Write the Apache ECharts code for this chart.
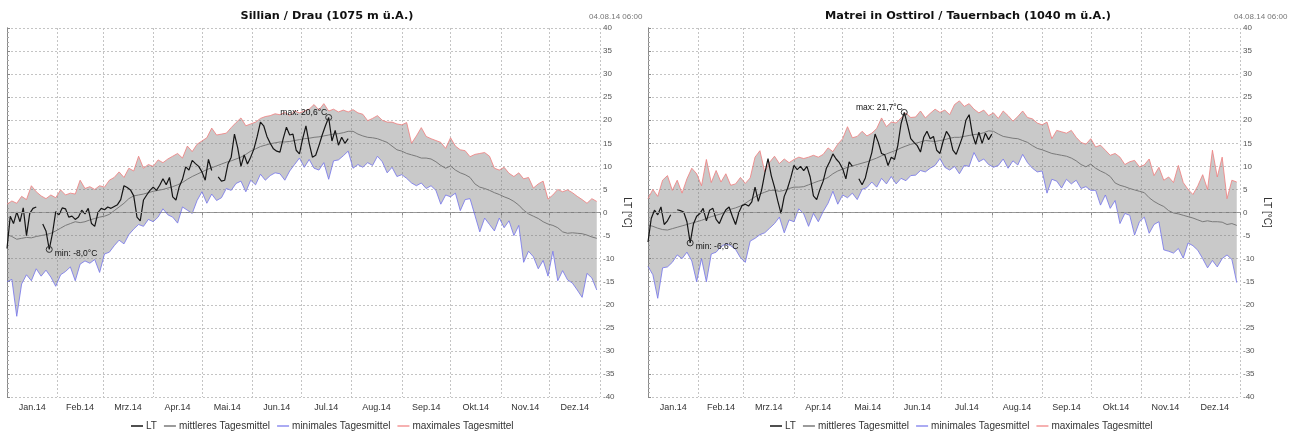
<!DOCTYPE html>
<html>
<head>
<meta charset="utf-8">
<script src="https://cdn.jsdelivr.net/npm/echarts@6/dist/echarts.min.js"></script>
<style>
  html, body { margin: 0; padding: 0; background: #fff; }
  #chart { width: 1294px; height: 432px; }
</style>
</head>
<body>
<div id="chart"></div>
<script>
// Month axis (day of year 2014, Jan 1 = 0)
const monthLabels = ['Jan.14', 'Feb.14', 'Mrz.14', 'Apr.14', 'Mai.14', 'Jun.14',
                     'Jul.14', 'Aug.14', 'Sep.14', 'Okt.14', 'Nov.14', 'Dez.14'];
const monthStarts = [0, 31, 59, 90, 120, 151, 181, 212, 243, 273, 304, 334, 365];
const tempMin = -40, tempMax = 40, tempStep = 5;

// Climatology series are sampled every 3 days, the 2014 daily means every 2 days
const CLIM_STEP = 3;
const LT_STEP = 2;

// ---- Sillian / Drau ----
const sillianMax = [
  1.8, 2.5, 2.0, 3.5, 2.8, 5.8, 4.5, 3.6, 3.0, 3.8, 3.2, 4.9, 3.8, 4.2, 4.0, 7.0, 5.2, 5.6, 5.0, 5.8,
  5.5, 7.0, 7.6, 8.8, 7.6, 9.6, 9.0, 12.2, 9.6, 10.4, 10.0, 11.4, 10.8, 11.6, 12.2, 12.8, 11.8, 14.4, 13.2, 14.8,
  15.5, 16.2, 18.3, 16.8, 17.0, 17.2, 18.4, 19.5, 20.5, 18.8, 19.2, 19.6, 20.4, 20.8, 21.0, 21.4, 21.2, 21.7, 21.0, 22.0,
  21.6, 22.0, 22.4, 23.4, 22.2, 23.6, 22.0, 22.4, 21.8, 22.2, 21.8, 22.3, 21.6, 21.3, 19.9, 20.4, 21.0, 20.0, 19.6, 19.6,
  19.2, 19.0, 19.5, 15.0, 16.6, 18.4, 16.5, 16.0, 15.6, 15.2, 13.9, 16.2, 14.4, 13.6, 13.4, 12.1, 12.6, 12.8, 13.0, 12.2,
  9.6, 9.2, 9.8, 8.5, 7.8, 8.6, 7.3, 7.6, 5.3, 6.2, 6.8, 2.9, 3.8, 5.0, 4.5, 4.9, 4.3, 3.5, 2.8, 2.0,
  3.0, 2.4
];
const sillianMin = [
  -15.0, -14.5, -22.5, -15.5, -13.5, -14.8, -12.2, -13.8, -12.5, -14.0, -16.0, -13.5, -12.8, -11.8, -14.8, -11.2, -10.5, -11.0, -10.2, -13.0,
  -9.0, -8.6, -7.2, -6.0, -6.8, -4.8, -3.6, -2.6, -3.0, -1.5, -2.0, -1.0, 0.8, -0.5, -1.0, -2.3, 1.2, 0.5, -0.2, 2.6,
  4.5, 2.0, 4.0, 2.6, 3.2, 5.2, 4.8, 6.3, 6.8, 4.5, 7.0, 6.0, 8.3, 7.0, 8.0, 8.6, 8.4, 7.0, 9.0, 10.4,
  11.8, 9.8, 11.5, 9.6, 9.2, 10.8, 7.2, 11.2, 11.4, 12.3, 13.3, 9.6, 10.4, 9.8, 10.8, 10.2, 12.2, 11.0, 8.6, 9.8,
  7.8, 8.2, 7.4, 6.4, 5.8, 6.4, 5.2, 5.8, 4.8, 1.8, 3.8, 3.4, 4.2, 0.4, 2.8, 3.0, -0.6, -4.2, -1.2, -2.6,
  -4.0, -1.2, -3.3, -1.8, -5.0, -2.8, -10.8, -8.4, -9.6, -12.2, -10.4, -13.8, -8.4, -14.8, -12.6, -14.6, -15.3, -16.8, -18.4, -13.2,
  -14.2, -16.8
];
const sillianMean = [
  -4.8, -5.2, -5.8, -5.6, -5.4, -5.5, -5.2, -5.0, -4.8, -4.5, -4.0, -3.4, -2.8, -2.4, -2.0, -2.2, -2.0, -1.6, -1.3, -1.0,
  -0.8, -0.4, 0.4, 1.2, 2.0, 3.0, 3.6, 3.8, 4.0, 4.3, 4.6, 4.8, 5.0, 5.3, 5.6, 6.0, 6.5, 7.2, 7.8, 8.3,
  8.8, 9.3, 9.7, 10.1, 10.5, 10.9, 11.2, 11.6, 12.0, 12.6, 13.3, 13.8, 14.3, 14.6, 14.9, 15.1, 15.3, 15.3, 15.4, 15.6,
  15.8, 16.0, 16.1, 16.3, 16.4, 16.6, 16.8, 17.0, 17.1, 17.3, 17.6, 17.6, 17.0, 16.6, 16.3, 16.2, 16.0, 15.6, 15.2, 14.4,
  13.6, 13.3, 12.8, 12.5, 12.2, 11.8, 11.8, 11.6, 11.0, 10.2, 9.6, 10.1, 9.2, 8.6, 8.2, 7.6, 6.2, 5.5, 5.2, 4.8,
  4.3, 3.9, 3.4, 3.0, 2.4, 1.6, 0.5, -0.3, -0.8, -1.3, -2.0, -2.5, -2.8, -3.3, -4.2, -4.5, -4.4, -4.5, -4.6, -4.9,
  -5.3, -5.6
];
const sillianLT = [
  -7.8, -0.8, -2.4, 0.1, -2.0, 1.0, -5.0, -0.2, 0.9, 1.2, null, -2.5, -4.0, -8.0, -4.5, 0.2, -0.5, 1.0, 0.8, -1.0,
  -0.8, -1.5, -1.0, 0.5, -0.3, 0.9, -2.4, -3.0, 0.0, 0.9, 0.6, 1.2, 0.9, 1.3, 1.7, 2.8, 5.8, 5.4, 4.9, 3.6,
  -1.0, -1.8, 2.7, 3.8, 4.8, 5.5, 4.8, 5.9, 7.3, 6.0, 7.6, 3.4, 2.7, 5.6, 7.2, 9.9, 9.2, 11.3, 10.6, 10.0,
  8.8, 7.0, 11.5, 9.1, null, 7.7, 6.8, 7.0, 10.5, 12.0, 17.0, 14.0, 10.0, 12.5, 10.5, 12.0, 13.8, 16.5, 19.6, 18.8,
  16.5, 15.0, 13.8, 13.3, 13.1, 16.0, 18.5, 16.8, 17.0, 13.5, 12.7, 16.0, 18.8, 15.0, 12.0, 12.4, 14.5, 16.8, 18.8, 20.6,
  15.5, 17.8, 14.6, 16.3, 15.0, 16.0
];

// ---- Matrei in Osttirol / Tauernbach ----
const matreiMax = [
  3.0, 5.0, 3.5, 7.0, 8.0, 4.8, 7.0, 4.2, 7.3, 9.6, 8.4, 5.8, 11.5, 6.5, 9.1, 6.6, 8.4, 5.9, 6.2, 7.6,
  6.3, 7.5, 12.0, 13.4, 8.8, 10.9, 12.2, 10.6, 11.6, 10.8, 11.5, 12.0, 11.7, 12.0, 12.4, 12.0, 12.6, 14.0, 13.2, 14.8,
  16.0, 18.6, 16.2, 16.5, 17.6, 16.6, 17.2, 18.2, 20.5, 18.6, 19.6, 19.4, 20.5, 21.6, 20.6, 20.7, 22.0, 20.5, 21.5, 22.4,
  21.7, 22.2, 21.2, 23.4, 24.2, 23.0, 23.6, 22.4, 21.6, 22.2, 21.0, 21.6, 20.4, 22.0, 21.0, 19.8, 20.8, 22.0, 20.6, 20.3,
  19.4, 19.0, 19.6, 16.0, 17.8, 17.5, 17.2, 17.8, 16.3, 15.2, 14.8, 16.0, 14.2, 14.6, 13.5, 12.4, 12.8, 12.0, 10.4, 11.0,
  11.3, 9.9, 10.3, 11.6, 8.0, 9.8, 7.0, 7.7, 6.5, 10.2, 6.5, 5.0, 3.9, 5.8, 8.2, 5.0, 13.5, 7.7, 12.0, 3.0,
  7.0, 6.6
];
const matreiMin = [
  -11.7, -13.5, -18.6, -12.0, -11.8, -10.8, -9.2, -10.0, -8.6, -10.5, -15.0, -10.0, -15.0, -9.0, -8.6, -7.4, -6.8, -7.2, -8.0, -9.8,
  -10.8, -6.2, -5.6, -4.8, -4.4, -3.4, -2.4, -1.0, -4.4, -1.6, -2.0, 0.8, -0.3, -3.0, -0.2, -2.0, 0.2, 2.0, 4.6, 1.8,
  3.8, 3.2, 4.2, 2.8, 5.0, 5.4, 6.6, 5.5, 7.4, 6.2, 7.8, 6.2, 7.4, 6.9, 8.0, 8.1, 9.1, 8.8, 9.6, 10.2,
  11.7, 9.8, 9.2, 10.0, 8.4, 10.2, 10.0, 13.0, 11.0, 11.6, 10.4, 9.8, 10.2, 11.6, 9.6, 11.2, 10.3, 12.6, 10.8, 9.6,
  8.8, 9.0, 4.2, 7.2, 6.8, 5.3, 7.2, 6.2, 7.0, 5.2, 5.6, 4.8, 4.8, 1.6, 3.8, 0.9, 2.6, -2.4, -0.2, -0.6,
  -4.9, -2.0, -1.0, -4.5, -2.6, -2.0, -8.1, -8.4, -8.8, -7.8, -9.9, -6.6, -7.2, -8.2, -10.0, -12.0, -10.4, -11.8, -10.0, -9.2,
  -10.2, -15.2
];
const matreiMean = [
  -2.7, -3.0, -3.4, -3.7, -3.8, -3.5, -3.2, -2.9, -2.6, -2.3, -2.0, -1.7, -1.3, -0.9, -0.6, -0.3, 0.2, 0.7, 1.0, 1.4,
  2.0, 2.7, 3.4, 4.0, 4.4, 4.8, 4.8, 4.6, 4.8, 5.2, 5.5, 5.5, 5.6, 6.0, 6.4, 6.8, 7.1, 7.6, 8.4, 9.0,
  9.4, 9.8, 10.1, 10.4, 10.7, 11.0, 11.4, 11.8, 12.3, 12.7, 13.1, 13.5, 14.0, 14.4, 14.8, 15.0, 15.3, 15.6, 15.5, 15.4,
  15.6, 15.8, 16.1, 16.3, 16.3, 16.5, 16.7, 16.9, 17.0, 17.3, 17.7, 17.6, 17.0, 16.5, 16.3, 16.1, 16.0, 15.6, 15.2, 14.5,
  13.9, 13.6, 13.2, 12.8, 12.6, 12.4, 12.2, 11.8, 11.2, 10.4, 9.9, 10.5, 9.6, 9.0, 8.5, 7.8, 6.4, 5.9, 5.6, 5.2,
  4.9, 4.6, 4.3, 3.2, 2.4, 1.8, 1.3, 0.4, -0.1, -0.3, -0.6, -0.9, -1.2, -1.6, -2.0, -1.8, -2.0, -2.0, -2.1, -2.6,
  -2.4, -2.8
];
const matreiLT = [
  -6.4, -1.3, 0.5, -0.5, 1.2, -2.6, -1.8, -0.5, null, 0.6, 0.4, 0.1, -2.0, -6.6, -2.5, -0.8, -0.2, 0.9, -1.8, 0.5,
  0.9, -1.5, -2.4, -0.7, 0.6, 1.2, -0.8, -2.6, 0.0, 1.5, 1.8, 1.4, 2.3, 5.5, 2.4, 4.8, 8.5, 11.7, 8.0, 5.5,
  2.5, -0.2, 3.5, 5.2, 7.5, 10.2, 9.3, 10.0, 9.1, 10.0, 7.7, 3.6, 2.8, 5.0, 6.8, 9.6, 11.0, 12.7, 11.6, 10.8,
  9.5, 7.3, 11.0, 10.0, null, 7.3, 6.0, 7.5, 10.5, 13.0, 17.0, 15.2, 12.8, 12.5, 10.2, 12.0, 11.5, 14.5, 19.2, 21.7,
  19.0, 16.0, 15.2, 14.5, 13.1, 16.3, 17.6, 16.0, 16.5, 13.5, 12.8, 15.5, 17.6, 16.5, 13.5, 12.6, 14.5, 16.5, 20.0, 21.2,
  17.0, 14.8, 17.4, 15.0, 17.2, 15.8, 17.0
];

const stations = [
  { title: 'Sillian / Drau (1075 m ü.A.)', max: sillianMax, min: sillianMin, mean: sillianMean, lt: sillianLT },
  { title: 'Matrei in Osttirol / Tauernbach (1040 m ü.A.)', max: matreiMax, min: matreiMin, mean: matreiMean, lt: matreiLT }
];
const stamp = '04.08.14 06:00';
const legendNames = ['LT', 'mittleres Tagesmittel', 'minimales Tagesmittel', 'maximales Tagesmittel'];

// Panel geometry
const panels = [
  { left: 7, width: 593, titleX: 322, stampX: 584, legendX: 126 },
  { left: 648, width: 592, titleX: 963, stampX: 1229, legendX: 765 }
];
const PLOT_TOP = 28, PLOT_H = 369;

const FONT = '"Liberation Sans", Arial, sans-serif';
const GRID_LINE = { color: '#c4c4c4', type: [2, 2], width: 1 };
const COLORS = { lt: '#151515', mean: '#7a7a7a', min: 'rgba(115,115,235,0.8)', max: 'rgba(240,125,125,0.8)',
                 band: 'rgba(112,112,112,0.38)' };

const monthMids = monthLabels.map((_, i) => (monthStarts[i] + monthStarts[i + 1]) / 2);
const pairs = (arr, step) => arr.map((v, i) => [i * step, v]);
const fmtTemp = v => v.toFixed(1).replace('.', ',') + '°C';

const option = {
  animation: false,
  backgroundColor: '#fff',
  title: [],
  legend: [],
  grid: [],
  xAxis: [],
  yAxis: [],
  series: []
};

stations.forEach((st, p) => {
  const pn = panels[p];
  option.title.push({
    text: st.title, left: pn.titleX, top: 6, textAlign: 'center',
    textStyle: { fontFamily: '"DejaVu Sans", sans-serif', fontSize: 11.3, fontWeight: 'bold', color: '#111' }
  });
  option.title.push({
    text: stamp, left: pn.stampX, top: 8,
    textStyle: { fontFamily: FONT, fontSize: 8, fontWeight: 'normal', color: '#777' }
  });
  option.legend.push({
    data: legendNames, left: pn.legendX, top: 416, icon: 'rect', itemWidth: 12, itemHeight: 1.5, itemGap: 7,
    selectedMode: false,
    textStyle: { fontFamily: FONT, fontSize: 10, color: '#333', padding: [0, 0, 0, -2] }
  });
  option.grid.push({ left: pn.left, width: pn.width, top: PLOT_TOP, height: PLOT_H, containLabel: false });
  option.xAxis.push({
    type: 'value', gridIndex: p, min: 0, max: 365,
    axisLine: { show: true, lineStyle: { color: '#8a8a8a' } },
    axisTick: { show: true, length: 3, customValues: monthStarts, lineStyle: { color: '#8a8a8a' } },
    axisLabel: {
      customValues: monthMids, margin: 6, fontFamily: FONT, fontSize: 9, color: '#333',
      formatter: v => monthLabels[monthMids.indexOf(v)]
    },
    splitLine: { show: true, lineStyle: GRID_LINE }
  });
  // right-hand temperature axis
  option.yAxis.push({
    type: 'value', gridIndex: p, position: 'right', min: tempMin, max: tempMax, interval: tempStep,
    name: 'LT [°C]', nameLocation: 'middle', nameRotate: -90, nameGap: 22,
    nameTextStyle: { fontFamily: FONT, fontSize: 10, color: '#333' },
    axisLine: { show: true, lineStyle: { color: '#8a8a8a' } },
    axisTick: { show: true, length: 3, lineStyle: { color: '#8a8a8a' } },
    minorTick: { show: true, splitNumber: 5, length: 2, lineStyle: { color: '#aaa' } },
    axisLabel: { margin: 3, fontFamily: FONT, fontSize: 8, color: '#555' },
    splitLine: { show: true, lineStyle: GRID_LINE }
  });
  // left frame line
  option.yAxis.push({
    type: 'value', gridIndex: p, position: 'left', min: tempMin, max: tempMax, interval: tempStep,
    axisLine: { show: true, lineStyle: { color: '#8a8a8a' } },
    axisTick: { show: false }, axisLabel: { show: false }, splitLine: { show: false }
  });

  const xi = p, yi = p * 2;
  const common = { type: 'line', xAxisIndex: xi, yAxisIndex: yi, showSymbol: false, symbol: 'none' };

  // min..max envelope as one polygon: along the max values, back along the min values
  option.series.push({
    type: 'custom', name: 'band', xAxisIndex: xi, yAxisIndex: yi, silent: true, z: 1, clip: true,
    data: [[0, st.mean[0]]],
    renderItem: (params, api) => {
      const upper = st.max.map((v, i) => api.coord([i * CLIM_STEP, v]));
      const lower = st.min.map((v, i) => api.coord([i * CLIM_STEP, v])).reverse();
      return {
        type: 'polygon',
        shape: { points: upper.concat(lower) },
        style: { fill: COLORS.band, stroke: null }
      };
    }
  });
  option.series.push(Object.assign({}, common, {
    name: 'minimales Tagesmittel', z: 2, color: COLORS.min,
    data: pairs(st.min, CLIM_STEP), lineStyle: { color: COLORS.min, width: 1 }
  }));
  option.series.push(Object.assign({}, common, {
    name: 'maximales Tagesmittel', z: 2, color: COLORS.max,
    data: pairs(st.max, CLIM_STEP), lineStyle: { color: COLORS.max, width: 1 }
  }));
  option.series.push(Object.assign({}, common, {
    name: 'mittleres Tagesmittel', z: 3, color: COLORS.mean,
    data: pairs(st.mean, CLIM_STEP), lineStyle: { color: COLORS.mean, width: 1 },
    markLine: {
      silent: true, symbol: 'none', label: { show: false },
      lineStyle: { color: '#9a9a9a', type: [4, 3], width: 1 },
      data: [{ yAxis: 0 }]
    }
  }));
  option.series.push(Object.assign({}, common, {
    name: 'LT', z: 4, color: COLORS.lt, connectNulls: false,
    data: pairs(st.lt, LT_STEP), lineStyle: { color: COLORS.lt, width: 1.2 },
    markPoint: {
      symbol: 'circle', symbolSize: 6,
      itemStyle: { color: 'rgba(0,0,0,0)', borderColor: '#333', borderWidth: 1 },
      label: { fontFamily: FONT, fontSize: 8.5, color: '#111' },
      data: [
        { type: 'max', name: 'max', valueDim: 'y',
          label: { position: 'left', distance: 0, offset: [2, -5], formatter: q => 'max: ' + fmtTemp(q.value) } },
        { type: 'min', name: 'min', valueDim: 'y',
          label: { position: 'right', distance: 2, offset: [0, 4], formatter: q => 'min: ' + fmtTemp(q.value) } }
      ]
    }
  }));
});

const chart = echarts.init(document.getElementById('chart'), null, { renderer: 'canvas' });
chart.setOption(option);
</script>
</body>
</html>
